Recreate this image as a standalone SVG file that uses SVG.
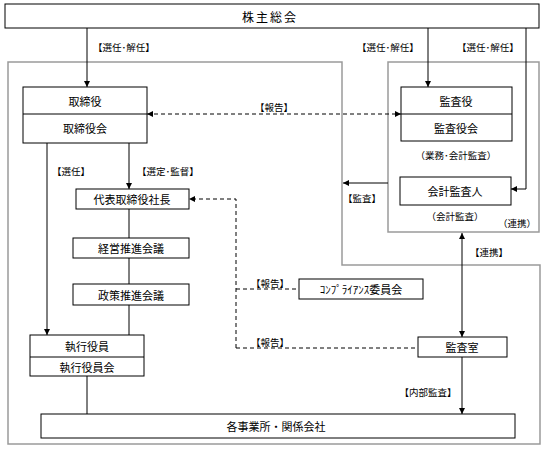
<svg xmlns="http://www.w3.org/2000/svg" width="550" height="450" viewBox="0 0 550 450">
<defs>
<marker id="ah" viewBox="0 0 10 10" refX="10" refY="5" markerWidth="6" markerHeight="6" markerUnits="userSpaceOnUse" orient="auto-start-reverse">
<path d="M0,0 L10,5 L0,10 Z" fill="#000"/>
</marker>
<style>
.box{fill:#fff;stroke:#000;stroke-width:1}
.div{stroke:#000;stroke-width:1}
.gray{fill:none;stroke:#9a9a9a;stroke-width:1.5}
.ln{fill:none;stroke:#000;stroke-width:1}
.dash{fill:none;stroke:#000;stroke-width:1;stroke-dasharray:4,3}
text{font-family:"Noto Sans CJK JP","Noto Sans",sans-serif;fill:#000;text-anchor:middle;dominant-baseline:central}
.t{font-size:11px}
.l{font-size:9.5px}
.big{font-size:12px;letter-spacing:2px}
</style>
</defs>
<rect width="550" height="450" fill="#fff"/>
<g id="regions">
<path class="gray" d="M8,62 H342 V265 H540 V444 H8 Z"/>
<rect class="gray" x="388" y="62" width="151" height="170"/>
</g>
<g id="connectors">
<line class="ln" x1="87" y1="28" x2="87" y2="87" marker-end="url(#ah)"/>
<line class="ln" x1="428" y1="28" x2="428" y2="87" marker-end="url(#ah)"/>
<path class="ln" d="M526,28 V189 H511" marker-end="url(#ah)"/>
<line class="dash" x1="147" y1="114" x2="401" y2="114" marker-start="url(#ah)" marker-end="url(#ah)"/>
<line class="ln" x1="388" y1="183" x2="343" y2="183" marker-end="url(#ah)"/>
<line class="ln" x1="462" y1="233" x2="462" y2="337" marker-start="url(#ah)" marker-end="url(#ah)"/>
<line class="ln" x1="462" y1="357" x2="462" y2="414" marker-end="url(#ah)"/>
<line class="ln" x1="129" y1="143" x2="129" y2="189" marker-end="url(#ah)"/>
<line class="ln" x1="47" y1="143" x2="47" y2="335" marker-end="url(#ah)"/>
<line class="ln" x1="129" y1="209" x2="129" y2="238"/>
<line class="ln" x1="129" y1="258" x2="129" y2="284"/>
<line class="ln" x1="129" y1="305" x2="129" y2="335"/>
<line class="ln" x1="87" y1="376" x2="87" y2="414"/>
<path class="dash" d="M236,348 V199 H189" marker-end="url(#ah)"/>
<line class="dash" x1="236" y1="348" x2="418" y2="348"/>
<line class="dash" x1="236" y1="289" x2="299" y2="289"/>
<text class="l" x="124" y="47">【選任･解任】</text>
<text class="l" x="388" y="47">【選任･解任】</text>
<text class="l" x="488" y="47">【選任･解任】</text>
<text class="l" x="274" y="107">【報告】</text>
<text class="l" x="362" y="198">【監査】</text>
<text class="l" x="489" y="252">【連携】</text>
<text class="l" x="428" y="392">【内部監査】</text>
<text class="l" x="168" y="171">【選定･監督】</text>
<text class="l" x="71" y="171">【選任】</text>
<text class="l" x="270" y="283">【報告】</text>
<text class="l" x="270" y="342">【報告】</text>
</g>
<g id="shareholders">
<rect class="box" x="5" y="4" width="534" height="24"/>
<text class="big" x="270" y="16">株主総会</text>
</g>
<g id="board">
<rect class="box" x="23" y="87" width="124" height="56"/>
<line class="div" x1="23" y1="114" x2="147" y2="114"/>
<text class="t" x="85" y="101">取締役</text>
<text class="t" x="85" y="128">取締役会</text>
</g>
<g id="auditors">
<rect class="box" x="401" y="87" width="111" height="54"/>
<line class="div" x1="401" y1="114" x2="512" y2="114"/>
<text class="t" x="456" y="101">監査役</text>
<text class="t" x="456" y="128">監査役会</text>
<text class="l" x="456" y="155">（業務･会計監査）</text>
</g>
<g id="accounting-auditor">
<rect class="box" x="400" y="177" width="111" height="28"/>
<text class="t" x="455" y="191">会計監査人</text>
<text class="l" x="455" y="216">（会計監査）</text>
<text class="l" x="517" y="223">（連携）</text>
</g>
<g id="president">
<rect class="box" x="76" y="189" width="113" height="20"/>
<text class="t" x="132" y="199">代表取締役社長</text>
</g>
<g id="management-meeting">
<rect class="box" x="73" y="238" width="116" height="20"/>
<text class="t" x="131" y="248">経営推進会議</text>
</g>
<g id="policy-meeting">
<rect class="box" x="73" y="284" width="116" height="21"/>
<text class="t" x="131" y="294.5">政策推進会議</text>
</g>
<g id="compliance">
<rect class="box" x="299" y="279" width="124" height="20"/>
<text class="t" x="361" y="289">ｺﾝﾌﾟﾗｲｱﾝｽ委員会</text>
</g>
<g id="officers">
<rect class="box" x="30" y="335" width="114" height="41"/>
<line class="div" x1="30" y1="357" x2="144" y2="357"/>
<text class="t" x="87" y="346">執行役員</text>
<text class="t" x="87" y="367">執行役員会</text>
</g>
<g id="audit-office">
<rect class="box" x="418" y="337" width="89" height="20"/>
<text class="t" x="462" y="347">監査室</text>
</g>
<g id="business-sites">
<rect class="box" x="41" y="414" width="474" height="24"/>
<text class="t" x="276" y="426">各事業所・関係会社</text>
</g>
</svg>
